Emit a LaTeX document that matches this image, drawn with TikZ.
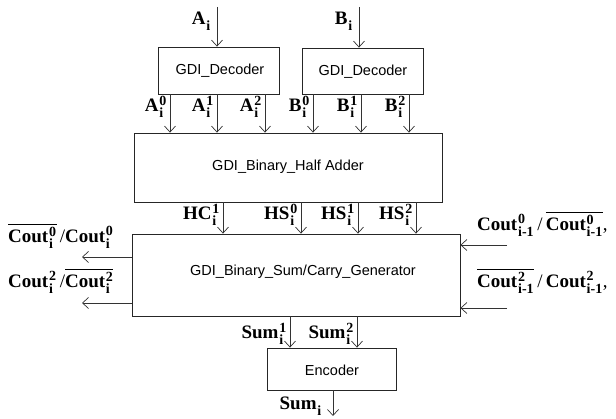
\documentclass[tikz,border=0pt]{standalone}
\usepackage{amsmath}
\usepackage{fontspec}
\setmainfont{Liberation Serif}
\newfontfamily\boxfont{Liberation Sans}
\usetikzlibrary{arrows.meta}
\DeclareMathSizes{19}{19}{14}{11}

% bold signal name with stacked subscript and superscript
\newcommand\sig[3]{$\textbf{#1}\kern0.8pt_{\textbf{#2}}^{\textbf{#3}}$}
\newcommand\nsig[3]{$\overline{\textbf{#1}\kern0.8pt_{\textbf{#2}}^{\textbf{#3}}}$}

\begin{document}
\begin{tikzpicture}[x=1pt,y=-1pt,
  blk/.style={draw=black!85,line width=0.8pt,inner sep=0pt},
  blktext/.style={inner sep=0pt,font=\boxfont\fontsize{14.5}{16}\selectfont},
  arr/.style={draw=black!80,line width=0.7pt,-{Straight Barb[length=6pt,width=11pt]}},
  lbl/.style={inner sep=0pt,font=\fontsize{19}{22}\selectfont}]
\useasboundingbox (0,0) rectangle (616,419);

% blocks
\node[blk,minimum width=121pt,minimum height=47pt] (dec1) at (218.5,70.5) {};
\node[blktext] (tdec1) at (220,71) {GDI\_Decoder};
\node[blk,minimum width=121pt,minimum height=46pt] (dec2) at (362.5,71) {};
\node[blktext] (tdec2) at (363,72) {GDI\_Decoder};
\node[blk,minimum width=308pt,minimum height=69pt] (ha) at (288,167.5) {};
\node[blktext] (tha) at (288,167) {GDI\_Binary\_Half Adder};
\node[blk,minimum width=328pt,minimum height=82pt] (sc) at (296,275) {};
\node[blktext] (tsc) at (303,272) {GDI\_Binary\_Sum/Carry\_Generator};
\node[blk,minimum width=129pt,minimum height=42pt] (enc) at (331.5,369) {};
\node[blktext] (tenc) at (332,370) {Encoder};

% primary inputs
\coordinate (ain) at (217,7);
\coordinate (bin) at (359,7);
\draw[arr] (ain) -- (ain |- dec1.north);
\draw[arr] (bin) -- (bin |- dec2.north);
\node[lbl,anchor=east] (la) at (211,21) {\sig{A}{i}{}};
\node[lbl,anchor=east] (lb) at (353,21) {\sig{B}{i}{}};

% decoder outputs
\foreach \n/\x in {a0/170,a1/217,a2/265}
  \coordinate (\n) at (\x,0);
\foreach \n/\x in {b0/313,b1/361,b2/409}
  \coordinate (\n) at (\x,0);
\foreach \n in {a0,a1,a2} \draw[arr] (\n |- dec1.south) -- (\n |- ha.north);
\foreach \n in {b0,b1,b2} \draw[arr] (\n |- dec2.south) -- (\n |- ha.north);
\node[lbl,anchor=east] at (167,107) {\sig{A}{i}{0}};
\node[lbl,anchor=east] at (214,107) {\sig{A}{i}{1}};
\node[lbl,anchor=east] at (262,107) {\sig{A}{i}{2}};
\node[lbl,anchor=east] at (310,107) {\sig{B}{i}{0}};
\node[lbl,anchor=east] at (358,107) {\sig{B}{i}{1}};
\node[lbl,anchor=east] at (406,107) {\sig{B}{i}{2}};

% half adder outputs
\foreach \n/\x in {hc1/223,hs0/301,hs1/358,hs2/416}
  \coordinate (\n) at (\x,0);
\foreach \n in {hc1,hs0,hs1,hs2} \draw[arr] (\n |- ha.south) -- (\n |- sc.north);
\node[lbl,anchor=east] at (220,215) {\sig{HC}{i}{1}};
\node[lbl,anchor=east] at (298,215) {\sig{HS}{i}{0}};
\node[lbl,anchor=east] at (355,215) {\sig{HS}{i}{1}};
\node[lbl,anchor=east] at (413,215) {\sig{HS}{i}{2}};

% carry outputs
\coordinate (lo1) at (82,257);
\coordinate (lo2) at (82,303);
\draw[arr] (lo1 -| sc.west) -- (lo1);
\draw[arr] (lo2 -| sc.west) -- (lo2);
\node[lbl,anchor=west] at (8,236) {\nsig{Cout}{i}{0}\,/\sig{Cout}{i}{0}};
\node[lbl,anchor=west] at (8,281) {\sig{Cout}{i}{2}\,/\nsig{Cout}{i}{2}};

% carry inputs
\coordinate (ri1) at (507,245);
\coordinate (ri2) at (507,308);
\draw[arr] (ri1) -- (ri1 -| sc.east);
\draw[arr] (ri2) -- (ri2 -| sc.east);
\node[lbl,anchor=west] at (477,224) {\sig{Cout}{i-1}{0}\,/\,\nsig{Cout}{i-1}{0},};
\node[lbl,anchor=west] at (477,281) {\nsig{Cout}{i-1}{2}\,/\,\sig{Cout}{i-1}{2},};

% sum outputs
\coordinate (s1) at (290,0);
\coordinate (s2) at (357,0);
\draw[arr] (s1 |- sc.south) -- (s1 |- enc.north);
\draw[arr] (s2 |- sc.south) -- (s2 |- enc.north);
\node[lbl,anchor=east] at (287,334) {\sig{Sum}{i}{1}};
\node[lbl,anchor=east] at (354,334) {\sig{Sum}{i}{2}};

% final sum
\coordinate (sout) at (333,416);
\draw[arr] (sout |- enc.south) -- (sout);
\node[lbl,anchor=east] at (322,406) {\sig{Sum}{i}{}};
\end{tikzpicture}
\end{document}
